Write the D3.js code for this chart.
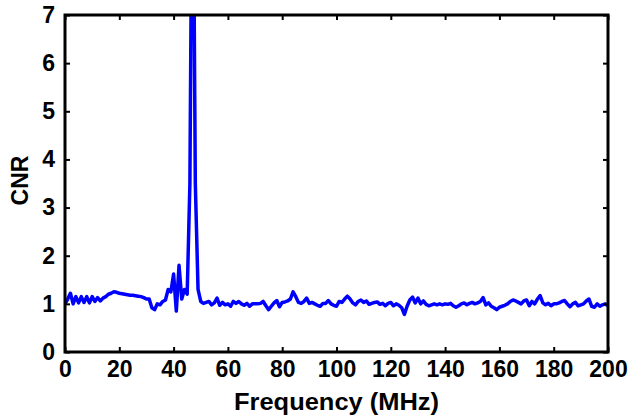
<!DOCTYPE html>
<html>
<head>
<meta charset="utf-8">
<script src="https://cdn.jsdelivr.net/npm/d3@7"></script>
<style>
    body { margin: 0; background: #fff; }
    text { font-family: "Liberation Sans", Arial, sans-serif; font-weight: bold; }
</style>
</head>
<body>
<script>
// frequency in MHz, one sample every MHz
var freq = d3.range(0, 201);

// CNR, one value per MHz (0..200)
var cnr = [
    1.00, 1.10, 1.22, 1.00, 1.15, 1.02, 1.15, 1.03, 1.15, 1.02,   // 0-9
    1.15, 1.05, 1.13, 1.06, 1.12, 1.15, 1.20, 1.22, 1.25, 1.24,   // 10-19
    1.22, 1.21, 1.20, 1.19, 1.18, 1.18, 1.17, 1.16, 1.15, 1.13,   // 20-29
    1.10, 1.10, 0.92, 0.88, 1.00, 0.98, 1.05, 1.08, 1.30, 1.25,   // 30-39
    1.62, 0.85, 1.80, 1.10, 1.30, 1.20, 3.50, 12.0, 3.50, 1.30,   // 40-49
    1.05, 1.01, 1.03, 1.05, 0.98, 1.02, 1.12, 0.97, 1.03, 0.98,   // 50-59
    1.00, 0.95, 1.05, 1.01, 1.05, 1.00, 0.97, 1.01, 0.95, 1.00,   // 60-69
    1.00, 1.00, 1.01, 1.05, 0.96, 0.88, 0.95, 1.02, 1.07, 0.94,   // 70-79
    1.03, 1.04, 1.06, 1.10, 1.25, 1.15, 1.03, 1.01, 1.05, 1.12,   // 80-89
    1.01, 1.03, 1.00, 0.97, 0.95, 1.01, 1.01, 1.07, 1.00, 0.97,   // 90-99
    0.95, 1.05, 1.03, 1.10, 1.16, 1.10, 1.02, 0.98, 1.05, 1.08,   // 100-109
    1.03, 1.06, 0.99, 1.01, 1.03, 1.04, 0.99, 1.01, 0.96, 1.01,   // 110-119
    1.03, 0.96, 1.00, 0.97, 0.92, 0.78, 0.95, 1.08, 1.14, 1.02,   // 120-129
    1.12, 1.00, 1.06, 0.99, 0.96, 0.98, 1.00, 0.98, 1.00, 0.98,   // 130-139
    1.00, 0.99, 1.01, 0.96, 0.93, 0.96, 1.00, 1.02, 0.98, 1.01,   // 140-149
    1.03, 1.00, 1.02, 1.05, 1.13, 0.98, 1.02, 0.95, 0.92, 0.88,   // 150-159
    0.93, 0.95, 0.97, 1.00, 1.05, 1.08, 1.06, 1.03, 1.00, 1.06,   // 160-169
    1.08, 0.96, 1.05, 1.00, 1.10, 1.17, 1.02, 0.98, 1.01, 0.96,   // 170-179
    1.00, 1.00, 1.02, 1.05, 1.07, 1.00, 0.94, 1.00, 1.03, 0.96,   // 180-189
    0.98, 1.00, 1.06, 1.10, 0.95, 0.93, 1.00, 0.95, 0.98, 1.00,   // 190-199
    0.96                                                          // 200
];

var xTicks = [0, 20, 40, 60, 80, 100, 120, 140, 160, 180, 200],
    yTicks = [0, 1, 2, 3, 4, 5, 6, 7];

var margin = {top: 15, right: 23, bottom: 66, left: 65},
    width = 631 - margin.left - margin.right,
    height = 418 - margin.top - margin.bottom;

var svg = d3.select("body").append("svg")
        .attr("width", 631)
        .attr("height", 418)
    .append("g")
        .attr("transform", "translate(" + margin.left + "," + margin.top + ")");

var x = d3.scaleLinear().domain([0, 200]).range([0, width]);
var y = d3.scaleLinear().domain([0, 7]).range([height, 0]);

// clip the line to the box, the peak goes off the top
svg.append("clipPath")
    .attr("id", "clip")
  .append("rect")
    .attr("width", width)
    .attr("height", height);

var line = d3.line()
    .x(function(d, i) { return x(freq[i]); })
    .y(function(d) { return y(d); });

svg.append("path")
    .datum(cnr)
    .attr("clip-path", "url(#clip)")
    .attr("fill", "none")
    .attr("stroke", "#0000ff")
    .attr("stroke-width", 3.5)
    .attr("stroke-linejoin", "round")
    .attr("d", line);

// axes, matlab style ticks pointing inward
function styleAxis(g) {
    g.select(".domain").remove();
    g.selectAll(".tick line").attr("stroke", "#000").attr("stroke-width", 2);
    g.selectAll("text").attr("font-size", "23px").attr("fill", "#000");
}

svg.append("g")
    .attr("transform", "translate(0," + height + ")")
    .call(d3.axisBottom(x).tickValues(xTicks).tickSizeInner(-5).tickSizeOuter(0).tickPadding(9))
    .call(styleAxis);

svg.append("g")
    .call(d3.axisLeft(y).tickValues(yTicks).tickFormat(d3.format("d"))
        .tickSizeInner(-5).tickSizeOuter(0).tickPadding(10))
    .call(styleAxis);

svg.append("g")
    .call(d3.axisTop(x).tickValues(xTicks).tickSizeInner(-5).tickSizeOuter(0).tickFormat(""))
    .call(styleAxis);

svg.append("g")
    .attr("transform", "translate(" + width + ",0)")
    .call(d3.axisRight(y).tickValues(yTicks).tickSizeInner(-5).tickSizeOuter(0).tickFormat(""))
    .call(styleAxis);

// frame
svg.append("rect")
    .attr("width", width)
    .attr("height", height)
    .attr("fill", "none")
    .attr("stroke", "#000")
    .attr("stroke-width", 3);

// x label
svg.append("text")
    .attr("x", width / 2)
    .attr("y", height + 58)
    .attr("text-anchor", "middle")
    .attr("font-size", "23px")
    .attr("textLength", 205)
    .attr("lengthAdjust", "spacingAndGlyphs")
    .text("Frequency (MHz)");

// y label
svg.append("text")
    .attr("transform", "rotate(-90)")
    .attr("x", -height / 2 + 3)
    .attr("y", -37)
    .attr("text-anchor", "middle")
    .attr("font-size", "23px")
    .text("CNR");
</script>
</body>
</html>
